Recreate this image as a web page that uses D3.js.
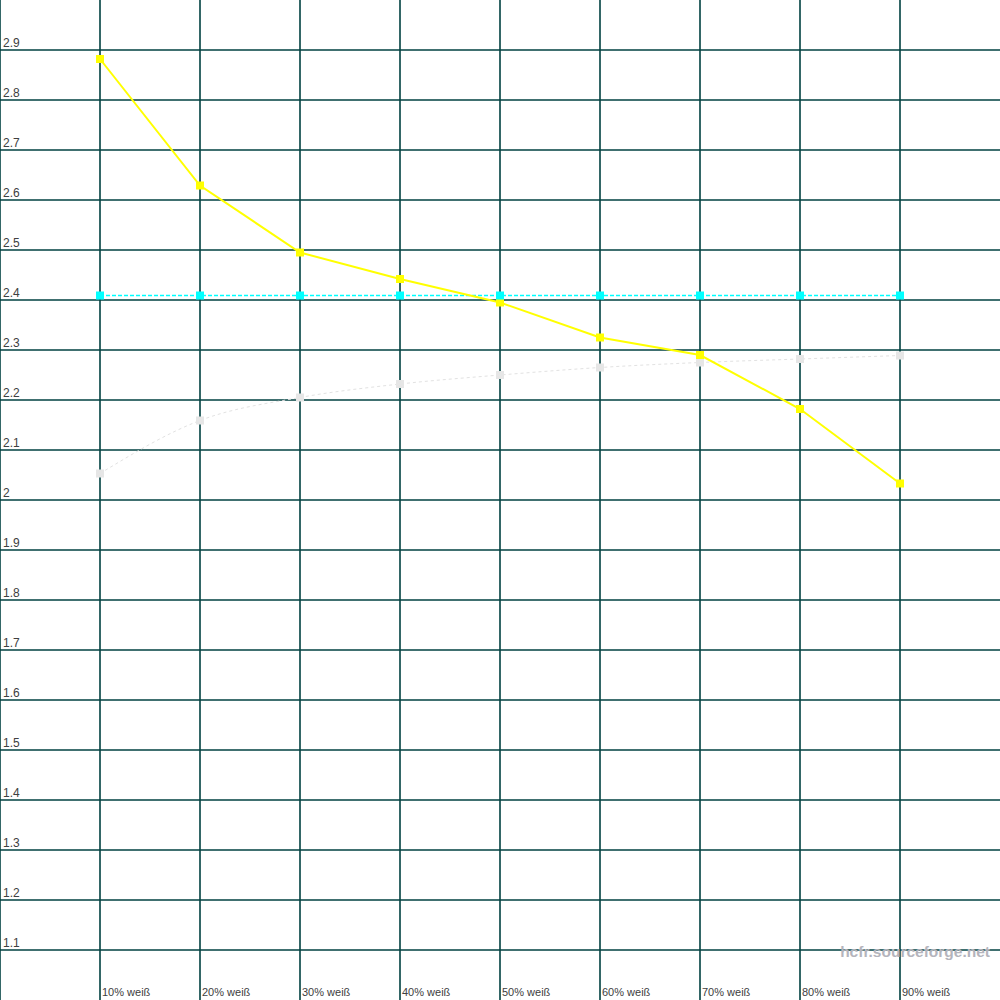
<!DOCTYPE html>
<html><head><meta charset="utf-8">
<script src="https://cdn.jsdelivr.net/npm/d3@7"></script>
<style>html,body{margin:0;padding:0;background:#fff;}svg{display:block;}</style>
</head><body>
<script>
const categories = ["10% weiß","20% weiß","30% weiß","40% weiß","50% weiß","60% weiß","70% weiß","80% weiß","90% weiß"];
const yellowValues = [2.882, 2.629, 2.495, 2.442, 2.395, 2.325, 2.290, 2.182, 2.033];
const cyanValues = [2.409, 2.409, 2.409, 2.409, 2.409, 2.409, 2.409, 2.409, 2.409];
const grayValues = [2.053, 2.159, 2.205, 2.232, 2.250, 2.265, 2.275, 2.282, 2.289];
const yTicks = [1.1,1.2,1.3,1.4,1.5,1.6,1.7,1.8,1.9,2,2.1,2.2,2.3,2.4,2.5,2.6,2.7,2.8,2.9];
const yTickLabels = ["1.1","1.2","1.3","1.4","1.5","1.6","1.7","1.8","1.9","2","2.1","2.2","2.3","2.4","2.5","2.6","2.7","2.8","2.9"];
const watermark = "hcfr.sourceforge.net";

const W = 1000, H = 1000;
const svg = d3.select("body").append("svg").attr("width", W).attr("height", H);
svg.append("rect").attr("width", W).attr("height", H).attr("fill", "#fff");

const x = d3.scaleLinear().domain([0, 10]).range([0, 1000]);
const y = d3.scaleLinear().domain([1, 3]).range([1000, 0]);
const gridColor = "#004040";

// horizontal grid
svg.append("g").selectAll("line").data(yTicks).join("line")
  .attr("x1", 0).attr("x2", W)
  .attr("y1", d => y(d)).attr("y2", d => y(d))
  .attr("stroke", gridColor).attr("stroke-width", 1.6);
// vertical grid
const vx = [0].concat(categories.map((c, i) => i + 1));
svg.append("g").selectAll("line").data(vx).join("line")
  .attr("x1", d => x(d)).attr("x2", d => x(d))
  .attr("y1", 0).attr("y2", H)
  .attr("stroke", gridColor).attr("stroke-width", 1.6);

// y labels
svg.append("g").selectAll("text").data(yTicks).join("text")
  .attr("x", 3).attr("y", d => y(d) - 3)
  .attr("font-family", "Liberation Sans, Arial, sans-serif").attr("font-size", 12)
  .attr("fill", "#404040")
  .text((d, i) => yTickLabels[i]);
// x labels
svg.append("g").selectAll("text").data(categories).join("text")
  .attr("x", (d, i) => x(i + 1) + 2).attr("y", 996)
  .attr("font-family", "Liberation Sans, Arial, sans-serif").attr("font-size", 11)
  .attr("fill", "#404040")
  .text(d => d);

// watermark
svg.append("text").attr("x", 990).attr("y", 957).attr("text-anchor", "end")
  .attr("font-family", "Liberation Sans, Arial, sans-serif").attr("font-weight", "bold")
  .attr("font-size", 15.5).attr("fill", "#b4b4bc").text(watermark);

const series = [
  {vals: grayValues, color: "#e2e2e2", width: 1, dash: "3,3", msize: 8, mcolor: "#e6e6e6", curve: d3.curveMonotoneX},
  {vals: cyanValues, color: "#00ffff", width: 1.5, dash: "4,2", msize: 8, mcolor: "#00ffff", curve: d3.curveLinear},
  {vals: yellowValues, color: "#ffff00", width: 2, dash: null, msize: 8, mcolor: "#ffff00", curve: d3.curveLinear}
];
series.forEach(s => {
  const line = d3.line().x((d, i) => x(i + 1)).y(d => y(d)).curve(s.curve);
  svg.append("path").datum(s.vals).attr("d", line)
    .attr("fill", "none").attr("stroke", s.color).attr("stroke-width", s.width)
    .attr("stroke-dasharray", s.dash);
});
[series[0], series[2], series[1]].forEach(s => {
  svg.append("g").selectAll("rect").data(s.vals).join("rect")
    .attr("x", (d, i) => x(i + 1) - s.msize / 2).attr("y", d => y(d) - s.msize / 2)
    .attr("width", s.msize).attr("height", s.msize).attr("fill", s.mcolor);
});
</script>
</body></html>
